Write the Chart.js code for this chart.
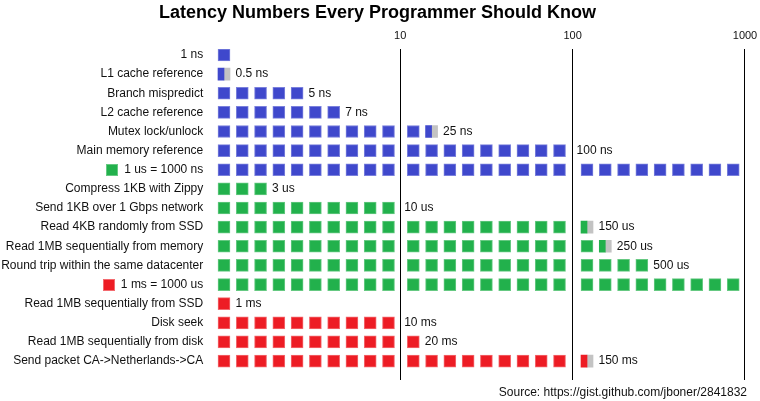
<!DOCTYPE html>
<html>
<head>
<meta charset="utf-8">
<script src="https://cdn.jsdelivr.net/npm/chart.js@4.4.1/dist/chart.umd.min.js"></script>
<style>
  html, body { margin: 0; padding: 0; background: #ffffff; }
  #wrap { width: 760px; height: 401px; }
</style>
</head>
<body>
<div id="wrap"><canvas id="c" width="760" height="401"></canvas></div>
<script>
// ---------------- data ----------------
const tasks = [
  "1 ns",
  "L1 cache reference",
  "Branch mispredict",
  "L2 cache reference",
  "Mutex lock/unlock",
  "Main memory reference",
  "1 us = 1000 ns",
  "Compress 1KB with Zippy",
  "Send 1KB over 1 Gbps network",
  "Read 4KB randomly from SSD",
  "Read 1MB sequentially from memory",
  "Round trip within the same datacenter",
  "1 ms = 1000 us",
  "Read 1MB sequentially from SSD",
  "Disk seek",
  "Read 1MB sequentially from disk",
  "Send packet CA->Netherlands->CA"
];
const latency = [1, 0.5, 5, 7, 25, 100, 1000, 3, 10, 150, 250, 500, 1000, 1, 10, 20, 150];
const units   = ["ns","ns","ns","ns","ns","ns","ns","us","us","us","us","us","us","ms","ms","ms","ms"];
// rows that only define a unit (no value label); marker = unit shown as a square before the label
const unitRows = [0, 6, 12];
const labelMarker = [null,null,null,null,null,null,"us",null,null,null,null,null,"ms",null,null,null,null];
const tickPositions = [10, 20, 30];
const tickLabels = ["10", "100", "1000"];
const sourceText = "Source: https://gist.github.com/jboner/2841832";

// ---------------- styles / layout ----------------
const FONT = '"Liberation Sans", Arial, Helvetica, sans-serif';
const COLORS = { ns: "#3f48cc", us: "#22b14c", ms: "#ed1c24" };
const EDGES  = { ns: "#7a80dc", us: "#66c982", ms: "#f36a6f" };
const GREY = "#c3c3c3";
// each decade: value of one square, number of squares, first square position (x units)
const DECADES = [
  { step: 1,   count: 10, start: -0.565 },
  { step: 10,  count: 9,  start: 10.414 },
  { step: 100, count: 9,  start: 20.489 }
];
const PITCH = 1.060, SQ = 0.696;

function decompose(v) {
  const out = [];
  let rest = v;
  for (let d = 0; d < DECADES.length; d++) {
    for (let k = 0; k < DECADES[d].count && rest > 1e-9; k++) {
      const f = Math.min(1, rest / DECADES[d].step);
      out.push({ d, k, f });
      rest -= DECADES[d].step * f;
    }
  }
  return out;
}

const colored = { ns: [], us: [], ms: [] };
const greyHalves = [];
const valueLabels = [];
latency.forEach((v, row) => {
  const u = units[row];
  const sq = decompose(v);
  sq.forEach(s => {
    const x0 = DECADES[s.d].start + s.k * PITCH;
    colored[u].push({ x: [x0, x0 + SQ * s.f], y: row, f: s.f });
    if (s.f < 1) greyHalves.push({ x: [x0 + SQ * s.f, x0 + SQ], y: row, f: 0.5 });
  });
  if (!unitRows.includes(row)) {
    const last = sq[sq.length - 1];
    let lx, afterLine = false;
    if (last.f === 1 && last.k === DECADES[last.d].count - 1) {
      lx = (last.d + 1) * 10; afterLine = true;
    } else {
      lx = DECADES[last.d].start + last.k * PITCH + SQ;
    }
    valueLabels.push({ row, x: lx, afterLine, text: v + " " + u });
  }
});

function makeSet(u) {
  return {
    data: colored[u],
    backgroundColor: COLORS[u],
    borderColor: EDGES[u],
    borderWidth: c => (c.raw && c.raw.f < 1 ? 0 : 1),
    borderSkipped: false
  };
}

const valueLabelPlugin = {
  id: "valueLabels",
  afterLayout(chart) {
    // centre the title over the same span as the reference
    if (chart.titleBlock) { chart.titleBlock.left += 8; }
  },
  afterDatasetsDraw(chart) {
    const ctx = chart.ctx, xs = chart.scales.x, ys = chart.scales.y;
    ctx.save();
    ctx.font = "12px " + FONT;
    ctx.fillStyle = "#111";
    ctx.textBaseline = "middle";
    ctx.textAlign = "left";
    valueLabels.forEach(l => {
      const px = xs.getPixelForValue(l.x) + (l.afterLine ? 4 : 5.5);
      ctx.fillText(l.text, px, ys.getPixelForValue(l.row));
    });
    ctx.restore();
  }
};

const markerPlugin = {
  id: "labelMarkers",
  afterDraw(chart) {
    const ctx = chart.ctx, ys = chart.scales.y;
    ctx.save();
    ctx.font = "12px " + FONT;
    const right = ys.right - ys.options.ticks.padding;
    labelMarker.forEach((u, row) => {
      if (!u) return;
      const w = ctx.measureText(tasks[row]).width;
      const y = ys.getPixelForValue(row);
      const x = right - w - 6 - 12;
      ctx.fillStyle = EDGES[u];
      ctx.fillRect(Math.round(x), Math.round(y - 6), 12, 12);
      ctx.fillStyle = COLORS[u];
      ctx.fillRect(Math.round(x) + 1, Math.round(y - 6) + 1, 10, 10);
    });
    ctx.restore();
  }
};

Chart.defaults.font.family = FONT;
Chart.defaults.color = "#111";

new Chart(document.getElementById("c"), {
  type: "bar",
  data: {
    datasets: [
      makeSet("ns"), makeSet("us"), makeSet("ms"),
      { data: greyHalves, backgroundColor: GREY, borderWidth: 0 }
    ]
  },
  options: {
    responsive: false,
    animation: false,
    indexAxis: "y",
    grouped: false,
    barThickness: 12,
    layout: { padding: { left: 0, right: 13, top: 0, bottom: 0 } },
    plugins: {
      legend: { display: false },
      tooltip: { enabled: false },
      title: {
        display: true,
        text: "Latency Numbers Every Programmer Should Know",
        color: "#000",
        font: { size: 18, weight: "bold", family: FONT },
        padding: { top: 2, bottom: 0 }
      },
      subtitle: {
        display: true,
        position: "bottom",
        align: "end",
        text: sourceText,
        color: "#111",
        font: { size: 12, family: FONT },
        padding: { top: 5.5, bottom: 1.1 }
      }
    },
    scales: {
      x: {
        type: "linear",
        position: "top",
        min: -1.0145,
        max: 30.116,
        afterBuildTicks: s => { s.ticks = tickPositions.map(v => ({ value: v })); },
        afterFit: s => { s.height = 25.4; s.paddingLeft = 0; s.paddingRight = 0; },
        ticks: {
          autoSkip: false,
          maxRotation: 0,
          padding: 6.4,
          font: { size: 11 },
          color: "#111",
          callback: v => tickLabels[tickPositions.indexOf(v)]
        },
        grid: { color: "#000", lineWidth: 1, drawTicks: false },
        border: { display: false }
      },
      y: {
        type: "linear",
        reverse: true,
        offset: false,
        min: -0.314,
        max: 16.99,
        afterBuildTicks: s => { s.ticks = tasks.map((t, i) => ({ value: i })); },
        afterFit: s => { s.width = 210.25; s.paddingTop = 0; s.paddingBottom = 0; },
        ticks: {
          autoSkip: false,
          padding: 7,
          font: { size: 12 },
          color: "#111",
          callback: v => tasks[Math.round(v)]
        },
        grid: { display: false, drawTicks: false, offset: false },
        border: { display: false }
      }
    }
  },
  plugins: [valueLabelPlugin, markerPlugin]
});
</script>
</body>
</html>
